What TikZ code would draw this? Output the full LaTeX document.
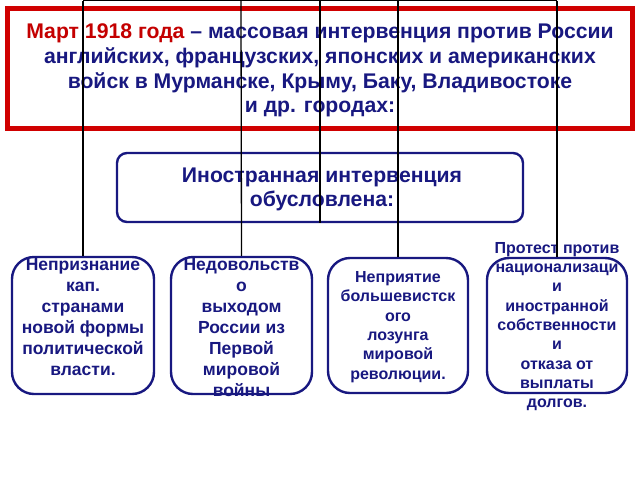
\documentclass[tikz,border=0pt]{standalone}
\usepackage{fontspec}
\setmainfont{Liberation Sans}
\definecolor{navy}{RGB}{24,24,128}
\definecolor{hred}{RGB}{196,0,0}
\definecolor{fred}{RGB}{208,0,0}
\begin{document}
\begin{tikzpicture}[x=1pt,y=-1pt,
  bluebox/.style={draw=navy, line width=2.4pt, rounded corners=#1, inner sep=0pt},
  bigtxt/.style={font=\bfseries\fontsize{21.2}{24.7}\selectfont, text=navy, align=center, inner sep=0pt},
  boxtxt/.style={font=\bfseries\fontsize{17.5}{21}\selectfont, text=navy, align=center, inner sep=0pt},
  smalltxt/.style={font=\bfseries\fontsize{16}{19.3}\selectfont, text=navy, align=center, inner sep=0pt},
  conn/.style={draw=black, line width=1.3pt}]
\useasboundingbox (0,0) rectangle (640,480);
\fill[white] (0,0) rectangle (640,480);
% header frame
\node[draw=fred, line width=5pt, minimum width=625pt, minimum height=120pt, inner sep=0pt] (frame) at (319.5,68) {};
\node[bigtxt] (headtxt) at (320,70.5) {\textcolor{hred}{Март 1918 года} – массовая интервенция против России\\английских, французских, японских и американских\\войск в Мурманске, Крыму, Баку, Владивостоке\\и др. городах:};
% middle box
\node[bluebox=10pt, minimum width=406pt, minimum height=69pt] (mid) at (320,187.5) {};
\node[bigtxt] (midtxt) at (322,189.5) {Иностранная интервенция\\обусловлена:};
% bottom boxes
\node[bluebox=22pt, minimum width=142pt, minimum height=137pt] (b1) at (83,325.5) {};
\node[bluebox=22pt, minimum width=141pt, minimum height=137pt] (b2) at (241.5,325.5) {};
\node[bluebox=22pt, minimum width=140pt, minimum height=135pt] (b3) at (398,325.5) {};
\node[bluebox=22pt, minimum width=140pt, minimum height=135pt] (b4) at (557,325.5) {};
\node[boxtxt] (t1) at (83,317) {Непризнание\\кап.\\странами\\новой формы\\политической\\власти.};
\begin{scope}
\clip (160,240) rectangle (325,397);
\node[boxtxt] (t2) at (241.5,327.5) {Недовольств\\о\\выходом\\России из\\Первой\\мировой\\войны};
\end{scope}
\node[smalltxt] (t3) at (398,327) {Неприятие\\большевистск\\ого\\лозунга\\мировой\\революции.};
\node[smalltxt] (t4) at (557,326.5) {Протест против\\национализаци\\и\\иностранной\\собственности\\и\\отказа от\\выплаты\\долгов.};
% connectors
\coordinate (top1) at (83,0.7);
\coordinate (top2) at (241,0.7);
\coordinate (topm) at (320,0.7);
\coordinate (top3) at (398,0.7);
\coordinate (top4) at (557,0.7);
\draw[conn] (top1) -- (top4);
\draw[conn] (top1) -- (b1.north);
\draw[conn] (top2) -- (b2.north);
\draw[conn] (topm) -- (mid.south);
\draw[conn] (top3) -- (b3.north);
\draw[conn] (top4) -- (b4.north);
\end{tikzpicture}
\end{document}
